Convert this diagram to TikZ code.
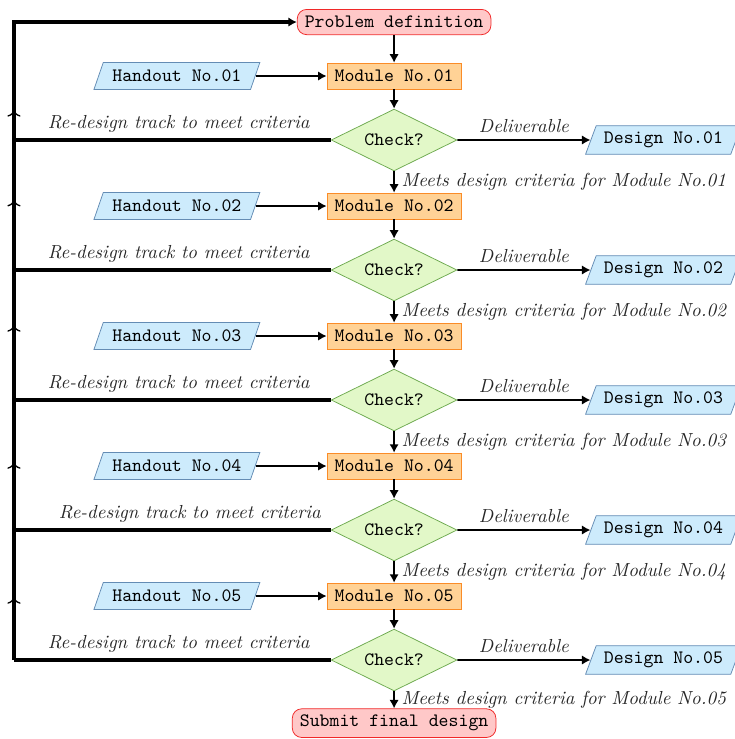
\documentclass[tikz,border=0pt]{standalone}
\usepackage{tikz}
\usetikzlibrary{calc,positioning,arrows.meta,shapes.geometric,decorations.markings}
\definecolor{startred}{RGB}{255,200,200}
\definecolor{edgered}{RGB}{240,40,40}
\definecolor{modorange}{RGB}{255,210,150}
\definecolor{edgeorange}{RGB}{250,140,40}
\definecolor{checkgreen}{RGB}{226,248,200}
\definecolor{edgegreen}{RGB}{110,170,80}
\definecolor{docblue}{RGB}{205,235,252}
\definecolor{edgeblue}{RGB}{100,140,180}
\tikzset{upmark/.tip={To[length=3.5pt,width=7pt,line width=0.7pt]}}

\begin{document}
\begin{tikzpicture}[font=\ttfamily,
  startstop/.style={draw=edgered, fill=startred, rounded corners=5pt, inner xsep=4pt, minimum height=0.47cm},
  module/.style={draw=edgeorange, fill=modorange, inner xsep=4pt, minimum height=0.48cm},
  check/.style={diamond, aspect=2, draw=edgegreen, fill=checkgreen, minimum width=2.34cm, minimum height=1.15cm, inner sep=0pt},
  doc/.style={trapezium, trapezium left angle=70, trapezium right angle=110, trapezium stretches=true,
    draw=edgeblue, fill=docblue, minimum height=0.5cm},
  flow/.style={-{Latex[length=4.5pt,width=5pt]}, line width=1.2pt},
  feed/.style={-{Latex[length=4.5pt,width=5pt]}, line width=0.9pt},
  back/.style={line width=1.7pt},
  lbl/.style={font=\rmfamily\itshape, text=black!85}]
  \useasboundingbox (0,0) rectangle (13.67,-13.745);

  % Start and end
  \node[startstop] (prob) at (7.33,-0.41) {Problem definition};
  \node[startstop] (submit) at (7.33,-13.45) {Submit final design};

  % Modules, checks, handouts and designs
  \foreach \i in {1,...,5} {
    \pgfmathsetmacro{\ym}{-1.414-2.418*(\i-1)}
    \pgfmathsetmacro{\yc}{-2.604-2.418*(\i-1)}
    \node[module] (mod\i) at (7.33,\ym) {Module No.0\i};
    \node[check] (chk\i) at (7.33,\yc) {Check?};
    \node[doc, minimum width=3.1cm] (hand\i) at (3.29,\ym) {Handout No.0\i};
    \node[doc, minimum width=2.92cm] (des\i) at (12.34,\yc) {Design No.0\i};
  }

  % Main flow
  \draw[flow] (prob) -- (mod1);
  \foreach \i in {1,...,5} {
    \draw[flow] (mod\i) -- (chk\i);
    \draw[feed] (hand\i) -- (mod\i);
    \draw[feed] (chk\i.east) -- (des\i.west) node[lbl, above, midway] {Deliverable};
  }
  \foreach \i in {1,...,4} {
    \pgfmathtruncatemacro{\inext}{\i+1}
    \draw[flow] (chk\i) -- (mod\inext) node[lbl, right, midway] {Meets design criteria for Module No.0\i};
  }
  \draw[flow] (chk5) -- (submit) node[lbl, right, midway] {Meets design criteria for Module No.05};

  % Re-design loop
  \coordinate (ltop) at (0.26,-0.41);
  \foreach \i/\p in {1/0.48,2/0.48,3/0.48,4/0.445,5/0.48} {
    \draw[back] (chk\i.west) -- (chk\i.west -| ltop) node[lbl, above, pos=\p] {Re-design track to meet criteria};
  }
  \coordinate (lbot) at (chk5.west -| ltop);
  \draw[back, -{Latex[length=4.5pt,width=5pt]},
    decoration={markings,
      mark=at position 1.17cm with {\arrow{upmark}},
      mark=at position 3.68cm with {\arrow{upmark}},
      mark=at position 6.23cm with {\arrow{upmark}},
      mark=at position 8.56cm with {\arrow{upmark}},
      mark=at position 10.23cm with {\arrow{upmark}}},
    postaction={decorate}] (lbot) -- (ltop) -- (prob);
\end{tikzpicture}
\end{document}
